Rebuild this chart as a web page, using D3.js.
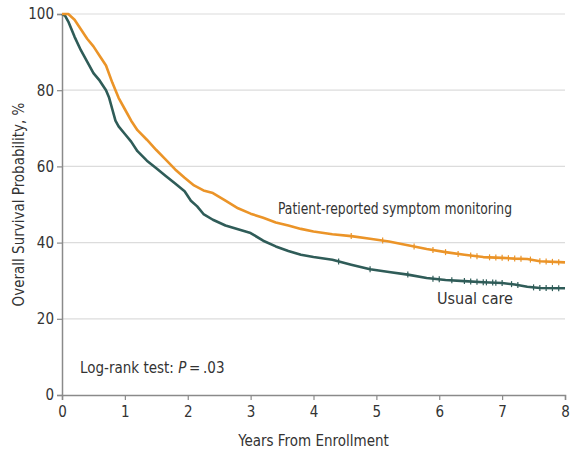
<!DOCTYPE html>
<html>
<head>
<meta charset="utf-8">
<script src="https://cdn.jsdelivr.net/npm/d3@7"></script>
<style>
  body { margin: 0; background: #fff; }
  svg text { font-family: "DejaVu Sans Condensed", "Roboto", sans-serif; fill: #333; }
</style>
</head>
<body>
<div id="chart"></div>
<script>
// survival estimates (years, %)
const usualTimes = [0, 0.05, 0.1, 0.2, 0.3, 0.4, 0.5, 0.6, 0.7, 0.75, 0.8, 0.85, 0.9, 1.0, 1.1, 1.2, 1.35, 1.5, 1.65, 1.8, 1.95, 2.05, 2.15, 2.25, 2.4, 2.6, 2.8, 3.0, 3.2, 3.4, 3.6, 3.8, 4.0, 4.3, 4.6, 4.9, 5.2, 5.5, 5.8, 6.1, 6.4, 6.7, 7.0, 7.2, 7.4, 7.6, 8.0];
const usualCare  = [100, 99.5, 98, 94, 90.5, 87.5, 84.5, 82.5, 80, 78, 75, 72, 70.5, 68.5, 66.5, 64, 61.5, 59.5, 57.5, 55.5, 53.5, 51, 49.5, 47.5, 46, 44.5, 43.5, 42.5, 40.5, 39, 37.8, 36.8, 36.2, 35.5, 34.2, 33, 32.3, 31.6, 30.7, 30.2, 29.9, 29.6, 29.4, 29, 28.4, 28.1, 28];

const praTimes = [0, 0.1, 0.2, 0.3, 0.4, 0.5, 0.6, 0.7, 0.8, 0.9, 1.0, 1.1, 1.2, 1.35, 1.5, 1.65, 1.8, 1.95, 2.1, 2.25, 2.4, 2.6, 2.8, 3.0, 3.2, 3.4, 3.6, 3.8, 4.0, 4.3, 4.6, 4.9, 5.2, 5.5, 5.8, 6.1, 6.4, 6.7, 7.0, 7.2, 7.4, 7.6, 8.0];
const praMonitoring = [100, 100, 98.5, 96, 93.5, 91.5, 89, 86.5, 82, 78, 75, 72, 69.5, 67, 64.3, 61.8, 59.2, 57, 55, 53.7, 53, 51, 49, 47.6, 46.5, 45.3, 44.5, 43.6, 42.9, 42.2, 41.7, 41, 40.3, 39.3, 38.3, 37.5, 36.8, 36.2, 36, 35.8, 35.7, 35.1, 34.8];

// censoring marks (years)
const usualCensor = [4.4, 4.9, 5.5, 5.9, 6.0, 6.2, 6.4, 6.5, 6.6, 6.7, 6.75, 6.85, 6.9, 7.0, 7.15, 7.25, 7.5, 7.6, 7.7, 7.8, 7.9];
const praCensor = [4.6, 5.1, 5.6, 5.9, 6.1, 6.3, 6.5, 6.6, 6.8, 6.9, 7.0, 7.1, 7.2, 7.3, 7.45, 7.6, 7.7, 7.8, 7.9];

const xTicks = [0, 1, 2, 3, 4, 5, 6, 7, 8];
const yTicks = [0, 20, 40, 60, 80, 100];

const width = 571, height = 457;
const margin = { top: 14, right: 6, bottom: 62, left: 62 };

const svg = d3.select('#chart').append('svg').attr('width', width).attr('height', height);

const x = d3.scaleLinear().domain([0, 8]).range([margin.left, width - margin.right]);
const y = d3.scaleLinear().domain([0, 100]).range([height - margin.bottom, margin.top]);

// gridlines
svg.append('g')
  .selectAll('line')
  .data(yTicks.filter((d) => d > 0))
  .enter()
  .append('line')
  .attr('x1', x(0)).attr('x2', x(8))
  .attr('y1', (d) => y(d)).attr('y2', (d) => y(d))
  .attr('stroke', '#dcdcdc').attr('stroke-width', 1.2);

// axes
const xAxis = svg.append('g')
  .attr('transform', `translate(0,${y(0)})`)
  .call(d3.axisBottom(x).tickValues(xTicks).tickSize(5).tickPadding(6));
const yAxis = svg.append('g')
  .attr('transform', `translate(${x(0)},0)`)
  .call(d3.axisLeft(y).tickValues(yTicks).tickSize(5).tickPadding(3));

[xAxis, yAxis].forEach((g) => {
  g.select('.domain').attr('stroke', '#8a8a8a').attr('stroke-width', 1.5);
  g.selectAll('.tick line').attr('stroke', '#8a8a8a').attr('stroke-width', 1.2);
  g.selectAll('.tick text').style('font-size', '15px').attr('fill', '#333');
});

// survival curves
const line = d3.line()
  .x((d) => x(d[0]))
  .y((d) => y(d[1]));

const series = [
  { times: usualTimes, values: usualCare, censor: usualCensor, color: '#2f5c58' },
  { times: praTimes, values: praMonitoring, censor: praCensor, color: '#eb9428' },
];

// curve value at a time, for the censor ticks
function valueAt(times, values, t) {
  const i = Math.min(times.length - 2, Math.max(0, d3.bisectRight(times, t) - 1));
  const f = (t - times[i]) / (times[i + 1] - times[i]);
  return values[i] + f * (values[i + 1] - values[i]);
}

series.forEach((s) => {
  const pts = s.times.map((t, i) => [t, s.values[i]]);
  svg.append('path')
    .datum(pts)
    .attr('fill', 'none')
    .attr('stroke', s.color)
    .attr('stroke-width', 2.6)
    .attr('stroke-linejoin', 'round')
    .attr('d', line);

  svg.append('g')
    .selectAll('line')
    .data(s.censor)
    .enter()
    .append('line')
    .attr('x1', (d) => x(d)).attr('x2', (d) => x(d))
    .attr('y1', (d) => y(valueAt(s.times, s.values, d)) - 3)
    .attr('y2', (d) => y(valueAt(s.times, s.values, d)) + 3)
    .attr('stroke', s.color)
    .attr('stroke-width', 1.2);
});

// labels
svg.append('text')
  .attr('x', 278).attr('y', 214)
  .style('font-size', '15px')
  .attr('textLength', 234)
  .attr('lengthAdjust', 'spacingAndGlyphs')
  .text('Patient-reported symptom monitoring');

svg.append('text')
  .attr('x', 437).attr('y', 304)
  .style('font-size', '15px')
  .attr('textLength', 76)
  .attr('lengthAdjust', 'spacingAndGlyphs')
  .text('Usual care');

const logrank = svg.append('text')
  .attr('x', 80).attr('y', 373)
  .style('font-size', '15px');
logrank.append('tspan').text('Log-rank test: ');
logrank.append('tspan').style('font-style', 'italic').text('P');
logrank.append('tspan').text('\u2009=\u2009.03');

svg.append('text')
  .attr('x', (x(0) + x(8)) / 2).attr('y', 446)
  .attr('text-anchor', 'middle')
  .style('font-size', '15px')
  .text('Years From Enrollment');

svg.append('text')
  .attr('transform', `translate(24,${(y(0) + y(100)) / 2}) rotate(-90)`)
  .attr('text-anchor', 'middle')
  .style('font-size', '15px')
  .text('Overall Survival Probability, %');
</script>
</body>
</html>
